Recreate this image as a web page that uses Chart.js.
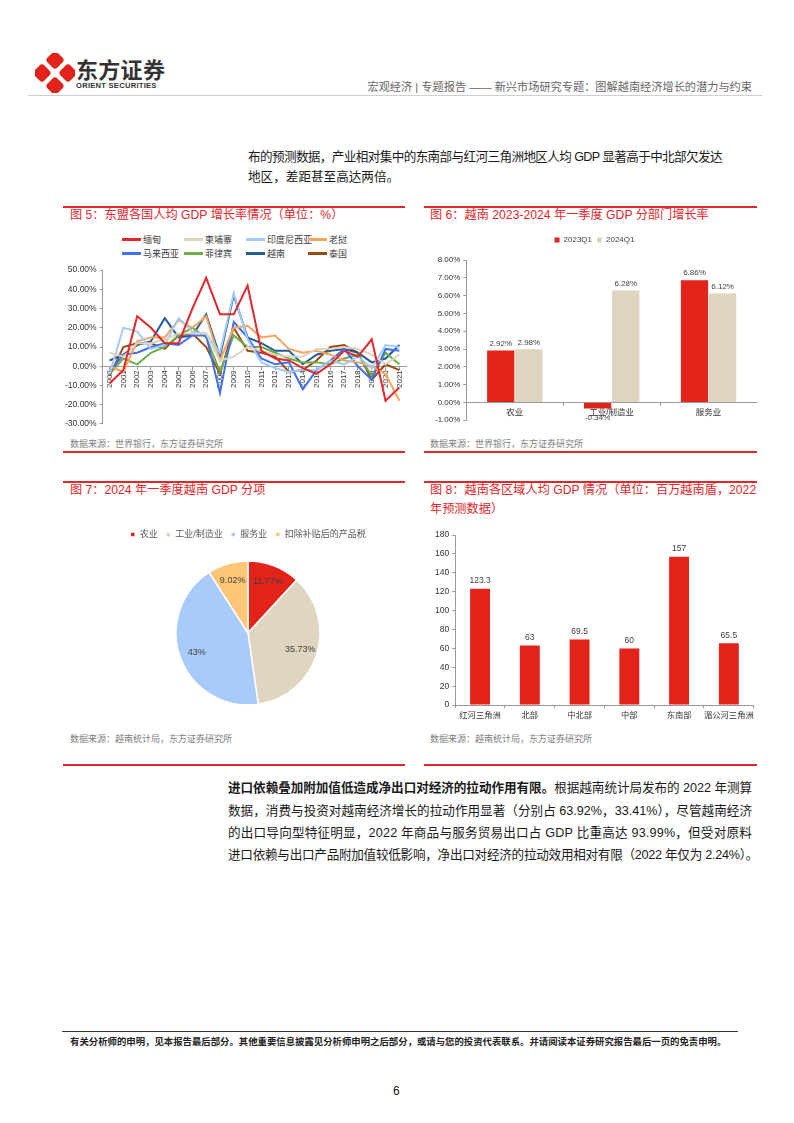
<!DOCTYPE html>
<html>
<head>
<meta charset="utf-8">
<script src="https://cdn.jsdelivr.net/npm/chart.js@4.4.1/dist/chart.umd.min.js"></script>
<style>
  body { margin: 0; background: #fff; }
  #page { position: relative; width: 794px; height: 1123px; overflow: hidden; background: #fff;
          font-family: "Liberation Sans", "Noto Sans CJK SC", sans-serif; color: #222; }
  .abs { position: absolute; white-space: nowrap; }
  .ftitle { position: absolute; font-size: 12.2px; color: #E3262A; white-space: nowrap; line-height: 19px; }
  .src { position: absolute; font-size: 9px; color: #808080; white-space: nowrap; }
  .rline { position: absolute; height: 1.5px; background: #E3262A; }
  .txt { position: absolute; font-size: 12.6px; color: #1a1a1a; white-space: nowrap; line-height: 16px; }
  canvas { position: absolute; }
  #lg5 { position: absolute; left: 122px; top: 234px; font-size: 9px; color: #404040; }
  #lg5 .it { position: absolute; white-space: nowrap; line-height: 12px; }
  #lg5 .sw { display: inline-block; width: 19px; height: 3px; vertical-align: middle; margin-right: 2px; margin-top: -2px; }
</style>
</head>
<body>
<div id="page">
  <!-- header -->
  <svg class="abs" style="left:35px;top:53px" width="40" height="40" viewBox="0 0 40 40">
    <g fill="#E2231A">
      <rect x="13" y="0" width="14" height="14" rx="3.5" transform="rotate(45 20 7)"/>
      <rect x="0" y="13" width="14" height="14" rx="3.5" transform="rotate(45 7 20)"/>
      <rect x="26" y="13" width="14" height="14" rx="3.5" transform="rotate(45 33 20)"/>
      <rect x="13" y="26" width="14" height="14" rx="3.5" transform="rotate(45 20 33)"/>
    </g>
  </svg>
  <div class="abs" style="left:76px;top:56px;font-size:22px;line-height:24px;font-weight:bold;color:#333;letter-spacing:0.3px;font-family:'Noto Sans CJK SC'">东方证券</div>
  <div class="abs" style="left:76px;top:81px;font-size:7.6px;line-height:9px;font-weight:bold;color:#333;letter-spacing:0.25px">ORIENT SECURITIES</div>
  <div class="abs" style="right:42px;top:78px;font-size:11.2px;color:#666">宏观经济 | 专题报告 —— 新兴市场研究专题：图解越南经济增长的潜力与约束</div>
  <div class="abs" style="left:28px;top:95px;width:734px;height:1px;background:#cfcfcf"></div>

  <!-- top paragraph -->
  <div class="txt fit" data-w="474" style="left:248px;top:149px">布的预测数据，产业相对集中的东南部与红河三角洲地区人均 GDP 显著高于中北部欠发达</div>
  <div class="txt" style="left:248px;top:169px">地区，差距甚至高达两倍。</div>

  <!-- figure 5 -->
  <div class="rline" style="left:63px;top:206px;width:342px"></div>
  <div class="ftitle" style="left:70px;top:206px">图 5：东盟各国人均 GDP 增长率情况（单位：%）</div>
  <div id="lg5"></div>
  <canvas id="c5" width="348" height="170" style="left:62px;top:262px"></canvas>
  <div class="src" style="left:70px;top:437px">数据来源：世界银行，东方证券研究所</div>
  <div class="rline" style="left:63px;top:451px;width:342px"></div>

  <!-- figure 6 -->
  <div class="rline" style="left:424px;top:206px;width:333px"></div>
  <div class="ftitle" style="left:430px;top:206px">图 6：越南 2023-2024 年一季度 GDP 分部门增长率</div>
  <canvas id="c6" width="332" height="197" style="left:425px;top:231px"></canvas>
  <div class="src" style="left:430px;top:437px">数据来源：世界银行，东方证券研究所</div>
  <div class="rline" style="left:424px;top:451px;width:333px"></div>

  <!-- figure 7 -->
  <div class="rline" style="left:63px;top:481px;width:342px"></div>
  <div class="ftitle" style="left:70px;top:481px">图 7：2024 年一季度越南 GDP 分项</div>
  <canvas id="c7" width="345" height="205" style="left:62px;top:522px"></canvas>
  <div class="src" style="left:70px;top:732px">数据来源：越南统计局，东方证券研究所</div>
  <div class="rline" style="left:63px;top:764px;width:342px"></div>

  <!-- figure 8 -->
  <div class="rline" style="left:424px;top:481px;width:333px"></div>
  <div class="ftitle" style="left:430px;top:481px">图 8：越南各区域人均 GDP 情况（单位：百万越南盾，2022<br>年预测数据）</div>
  <canvas id="c8" width="332" height="197" style="left:425px;top:527px"></canvas>
  <div class="src" style="left:430px;top:732px">数据来源：越南统计局，东方证券研究所</div>
  <div class="rline" style="left:424px;top:764px;width:333px"></div>

  <!-- bottom paragraph -->
  <div class="txt fit" data-w="524" style="left:228px;top:780px"><b>进口依赖叠加附加值低造成净出口对经济的拉动作用有限。</b>根据越南统计局发布的 2022 年测算</div>
  <div class="txt fit" data-w="524" style="left:228px;top:803px">数据，消费与投资对越南经济增长的拉动作用显著（分别占 63.92%，33.41%），尽管越南经济</div>
  <div class="txt fit" data-w="524" style="left:228px;top:825px">的出口导向型特征明显，2022 年商品与服务贸易出口占 GDP 比重高达 93.99%，但受对原料</div>
  <div class="txt fit" data-w="530" style="left:228px;top:847px">进口依赖与出口产品附加值较低影响，净出口对经济的拉动效用相对有限（2022 年仅为 2.24%）。</div>

  <!-- footer -->
  <div class="abs" style="left:62px;top:1031px;width:676px;height:1px;background:#333"></div>
  <div class="abs" style="left:70px;top:1034px;font-size:9.4px;font-weight:bold;color:#222">有关分析师的申明，见本报告最后部分。其他重要信息披露见分析师申明之后部分，或请与您的投资代表联系。并请阅读本证券研究报告最后一页的免责申明。</div>
  <div class="abs" style="left:393px;top:1084px;font-size:12px;color:#222">6</div>
</div>

<script>
// ---- figure 5: ASEAN per-capita GDP growth (%) ----
const years = ['2000','2001','2002','2003','2004','2005','2006','2007','2008','2009','2010',
               '2011','2012','2013','2014','2015','2016','2017','2018','2019','2020','2021'];
const countryNames = ['缅甸','柬埔寨','印度尼西亚','老挝','马来西亚','菲律宾','越南','泰国'];
const countryColors = ['#E3262A','#DDD3BF','#A4CAF7','#F8A45C','#3F6FF2','#6BAE45','#245C9A','#9B4A12'];
const myanmar   = [-9, -2, 26, 20, 12, 12, 30, 46, 27, 27, 42, 8, 4, 3, -1, -4, 1, 8, 5, 14, -18, -11];
const cambodia  = [7, 5, 12, 12, 14, 17, 17, 17, 3, 5, 10, 8, 6, 5, 5, 9, 9, 10, 9, 6, 1, 6];
const indonesia = [-4, 20, 18, 9, 11, 25, 18, 17, 7, 38, 14, 2, -1, -3, -2, -2, 3, 1, 5, -1, 11, 10];
const laos      = [0, -3, 13, 15, 15, 24, 20, 26, 3, 20, 21, 15, 16, 9, 7, 8, 6, 3, 2, 0, -4, -18];
const malaysia  = [-3, 6, 7, 10, 12, 11, 16, 16, -14, 23, 15, 4, 1, 2, -12, -2, 3, 9, 0, -7, 9, 8];
const philippines = [-4, 4, 1, 7, 10, 16, 20, 15, -3, 16, 10, 10, 7, 4, 2, 2, 1, 4, 6, -5, 7, 1];
const vietnam   = [3, 6, 11, 13, 25, 15, 16, 27, 5, 37, 15, 12, 8, 8, 1, 6, 8, 9, 7, 2, 4, 11];
const thailand  = [-5, 10, 12, 12, 9, 16, 17, 10, -4, 20, 8, 7, 5, -3, -2, 3, 10, 11, 7, -7, 1, -2];
const countrySeries = [myanmar, cambodia, indonesia, laos, malaysia, philippines, vietnam, thailand];
const growthTicks = [-30, -20, -10, 0, 10, 20, 30, 40, 50];

// ---- figure 6: sector growth 2023Q1 vs 2024Q1 ----
const sectors = ['农业', '工业/制造业', '服务业'];
const q1_2023 = [2.92, -0.34, 6.86];
const q1_2024 = [2.98, 6.28, 6.12];

// ---- figure 7: GDP composition 2024Q1 ----
const gdpParts = ['农业', '工业/制造业', '服务业', '扣除补贴后的产品税'];
const gdpShares = [11.77, 35.73, 43, 9.02];

// ---- figure 8: per-capita GDP by region ----
const regions = ['红河三角洲', '北部', '中北部', '中部', '东南部', '湄公河三角洲'];
const regionGdp = [123.3, 63, 69.5, 60, 157, 65.5];

// stretch/squeeze single text lines to the width they have in the original
document.querySelectorAll('.fit').forEach(el => {
  const target = parseFloat(el.dataset.w);
  const natural = el.getBoundingClientRect().width;
  const n = el.textContent.length;
  el.style.letterSpacing = ((target - natural) / n).toFixed(3) + 'px';
});

const RED = '#E2231A', BEIGE = '#DED4BF';
const FONT = '"Liberation Sans", "Noto Sans CJK SC", sans-serif';
Chart.defaults.font.family = FONT;
Chart.defaults.color = '#404040';
Chart.defaults.animation = false;
Chart.defaults.responsive = false;
Chart.defaults.devicePixelRatio = 1;
Chart.defaults.plugins.tooltip.enabled = false;

// draws the value of every bar / slice
const valueLabels = {
  id: 'valueLabels',
  afterDatasetsDraw(chart, args, opts) {
    if (!opts || !opts.format) return;
    const ctx = chart.ctx;
    ctx.save();
    ctx.font = (opts.size || 8) + 'px ' + FONT;
    ctx.fillStyle = opts.color || '#404040';
    ctx.textAlign = 'center';
    ctx.textBaseline = 'middle';
    chart.data.datasets.forEach((ds, i) => {
      chart.getDatasetMeta(i).data.forEach((el, j) => {
        const v = ds.data[j];
        if (el.outerRadius !== undefined) {
          const a = (el.startAngle + el.endAngle) / 2;
          const r = el.outerRadius * (opts.radius || 0.75);
          ctx.fillText(opts.format(v), el.x + Math.cos(a) * r, el.y + Math.sin(a) * r);
        } else {
          const off = opts.offset || 7;
          ctx.fillText(opts.format(v), el.x, v >= 0 ? el.y - off : el.y + off + 2);
        }
      });
    });
    ctx.restore();
  }
};

// adds some empty space under a top legend
const legendGap = {
  id: 'legendGap',
  beforeInit(chart) {
    const fit = chart.legend.fit;
    chart.legend.fit = function () {
      fit.bind(chart.legend)();
      this.height += 6;
    };
  }
};

// legend of figure 5 (4 columns x 2 rows, like the original)
const lg5 = document.getElementById('lg5');
countryNames.forEach((n, i) => {
  const d = document.createElement('div');
  d.className = 'it';
  d.style.left = (i % 4) * 62 + 'px';
  d.style.top = Math.floor(i / 4) * 14 + 'px';
  d.innerHTML = '<span class="sw" style="background:' + countryColors[i] + '"></span>' + n;
  lg5.appendChild(d);
});

new Chart(document.getElementById('c5'), {
  type: 'line',
  data: {
    labels: years,
    datasets: countrySeries.map((s, i) => ({
      label: countryNames[i], data: s, borderColor: countryColors[i],
      borderWidth: 2, pointRadius: 0, tension: 0, fill: false
    }))
  },
  options: {
    layout: { padding: { top: 4, right: 2, bottom: 0, left: 0 } },
    plugins: { legend: { display: false } },
    scales: {
      x: {
        position: { y: 0 }, offset: true,
        grid: { drawOnChartArea: false, tickLength: 3, color: '#999' },
        border: { color: '#999' },
        ticks: { autoSkip: false, minRotation: 90, maxRotation: 90, padding: 1, font: { size: 8 }, color: '#333' }
      },
      y: {
        min: -30, max: 50,
        afterBuildTicks: (s) => { s.ticks = growthTicks.map(v => ({ value: v })); },
        grid: { drawOnChartArea: false, tickLength: 3, color: '#999' },
        border: { color: '#999' },
        ticks: { callback: v => v.toFixed(2) + '%', font: { size: 8.5 }, color: '#333', padding: 3 }
      }
    }
  }
});

new Chart(document.getElementById('c6'), {
  type: 'bar',
  data: {
    labels: sectors,
    datasets: [
      { label: '2023Q1', data: q1_2023, backgroundColor: RED },
      { label: '2024Q1', data: q1_2024, backgroundColor: BEIGE }
    ]
  },
  plugins: [valueLabels, legendGap],
  options: {
    barPercentage: 0.97, categoryPercentage: 0.58,
    layout: { padding: { top: 0, right: 0, bottom: 4, left: 7 } },
    plugins: {
      legend: { position: 'top', labels: { boxWidth: 5, boxHeight: 5, padding: 5, font: { size: 8 }, color: '#404040' } },
      valueLabels: { format: v => v.toFixed(2) + '%', size: 8, offset: 7 }
    },
    scales: {
      x: {
        position: { y: 0 },
        grid: { drawOnChartArea: false, tickLength: 3, color: '#999' },
        border: { color: '#999' },
        ticks: { font: { size: 8.5 }, color: '#333', padding: 2 }
      },
      y: {
        min: -1, max: 8,
        ticks: { stepSize: 1, callback: v => v.toFixed(2) + '%', font: { size: 8 }, color: '#333' },
        grid: { drawOnChartArea: false, tickLength: 3, color: '#999' },
        border: { color: '#999' }
      }
    }
  }
});

new Chart(document.getElementById('c7'), {
  type: 'pie',
  data: {
    labels: gdpParts,
    datasets: [{ data: gdpShares, backgroundColor: [RED, '#DFD5C0', '#A9CBFA', '#FFC677'],
                 borderColor: '#fff', borderWidth: 1.5 }]
  },
  plugins: [valueLabels],
  options: {
    radius: 72,
    layout: { padding: { top: 0, right: 0, bottom: 10, left: 27 } },
    plugins: {
      legend: { position: 'top', labels: { boxWidth: 5, boxHeight: 5, padding: 8, font: { size: 9 }, color: '#595959' } },
      valueLabels: { format: v => v + '%', size: 9, radius: 0.76, color: '#404040' }
    }
  }
});

new Chart(document.getElementById('c8'), {
  type: 'bar',
  data: {
    labels: regions,
    datasets: [{ label: '人均GDP', data: regionGdp, backgroundColor: RED }]
  },
  plugins: [valueLabels],
  options: {
    barPercentage: 0.8, categoryPercentage: 0.5,
    layout: { padding: { top: 4, right: 3, bottom: 0, left: 7 } },
    plugins: {
      legend: { display: false },
      valueLabels: { format: v => String(v), size: 8.5, offset: 8 }
    },
    scales: {
      x: {
        grid: { drawOnChartArea: false, tickLength: 3, color: '#999' },
        border: { color: '#999' },
        ticks: { autoSkip: false, maxRotation: 0, minRotation: 0, font: { size: 8.3 }, color: '#333', padding: 3 }
      },
      y: {
        min: 0, max: 180,
        ticks: { stepSize: 20, font: { size: 8.5 }, color: '#333' },
        grid: { drawOnChartArea: false, tickLength: 3, color: '#999' },
        border: { color: '#999' }
      }
    }
  }
});
</script>
</body>
</html>
